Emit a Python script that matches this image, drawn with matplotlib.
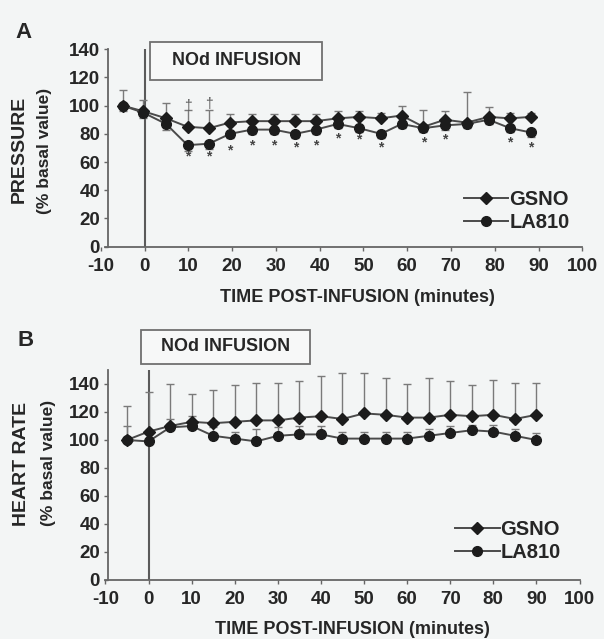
import matplotlib
matplotlib.use("Agg")
import matplotlib.pyplot as plt
from matplotlib.patches import Rectangle

plt.rcParams['font.family'] = ['Liberation Sans', 'DejaVu Sans']
plt.rcParams['axes.unicode_minus'] = False

# ---------------- data ----------------
time_A = [-5, -0.3, 4.9, 9.8, 14.7, 19.5, 24.5, 29.5, 34.4, 39.1, 44.1, 49.0,
          54.0, 58.7, 63.7, 68.6, 73.6, 78.6, 83.5, 88.2]
pressure_gsno = [100, 96, 91, 85, 84, 88, 89, 89, 89, 89, 91, 92, 91, 93, 85, 90, 88, 92, 91, 92]
pressure_gsno_err = [11, 8, 11, 12, 13, 6, 5, 5, 5, 5, 5, 4, 4, 7, 12, 6, 22, 7, 4, 3]
pressure_la810 = [100, 95, 87, 72, 73, 80, 83, 83, 80, 83, 87, 84, 80, 87, 84, 86, 87, 90, 84, 81]
pressure_la810_err = [4, 4, 4, 4, 4, 3, 3, 3, 3, 3, 3, 3, 3, 3, 3, 3, 3, 3, 3, 3]
# asterisk (significance) marks: time index -> y
sig_idx_A = [3, 4, 5, 6, 7, 8, 9, 10, 11, 12, 14, 15, 18, 19]
sig_y_A = [64, 64, 68, 72, 72, 70, 72, 77, 76, 70, 74, 76, 74, 70]
dagger_idx_A = [3, 4]
dagger_y_A = [100, 101]

time_B = [-5, 0, 5, 10, 15, 20, 25, 30, 35, 40, 45, 50, 55, 60, 65, 70, 75, 80, 85, 90]
hr_gsno = [100, 106, 110, 113, 112, 113, 114, 114, 116, 117, 115, 119, 118, 116, 116, 118, 117, 118, 115, 118]
hr_gsno_err = [24, 28, 30, 20, 24, 26, 27, 27, 26, 29, 33, 29, 26, 24, 28, 24, 22, 25, 26, 23]
hr_la810 = [100, 99, 109, 110, 103, 101, 99, 103, 104, 104, 101, 101, 101, 101, 103, 105, 107, 106, 103, 100]
hr_la810_err = [10, 8, 6, 7, 6, 5, 9, 6, 6, 6, 5, 5, 5, 5, 5, 5, 4, 5, 5, 5]

series_names = ['GSNO', 'LA810']
xticks = [-10, 0, 10, 20, 30, 40, 50, 60, 70, 80, 90, 100]
yticks = [0, 20, 40, 60, 80, 100, 120, 140]

# ---------------- style ----------------
BG = '#f3f5f5'
TXT = '#262626'
LINE = '#4a4a4a'
MK = '#1c1c1c'
ERR = '#7a7a7a'
TICKFS = 13.5
TITLEFS = 13

fig = plt.figure(figsize=(6.04, 6.39), dpi=100, facecolor=BG)

axA = fig.add_axes([100.9 / 604, 1 - 246.7 / 639, 481.4 / 604, 197.5 / 639])
axB = fig.add_axes([105.4 / 604, 1 - 580 / 639, 474.1 / 604, 210 / 639])


def style_axis(ax, ymax, spine_x):
    ax.set_facecolor('none')
    ax.set_xlim(-10, 100)
    ax.set_ylim(0, ymax)
    for s in ['top', 'right']:
        ax.spines[s].set_visible(False)
    ax.spines['left'].set_position(('data', spine_x))
    ax.spines['left'].set_bounds(0, ymax)
    ax.spines['bottom'].set_bounds(spine_x - 0.8, 100)
    for s in ['left', 'bottom']:
        ax.spines[s].set_color('#666666')
        ax.spines[s].set_linewidth(1.3)
    ax.set_xticks(xticks)
    ax.set_yticks(yticks)
    ax.tick_params(axis='both', colors='#666666', length=3, width=1,
                   labelcolor=TXT, labelsize=TICKFS)
    ax.tick_params(axis='x', pad=5)
    ax.tick_params(axis='y', pad=3)
    for lab in ax.get_xticklabels() + ax.get_yticklabels():
        lab.set_fontweight('bold')
    ax.axvline(0, color='#5a5a5a', lw=1.5, zorder=1)


def draw_series(ax, x, ys, errs, errdirs):
    markers = ['D', 'o']
    sizes = [6.5, 7]
    for y, e, m, ms, name, d in zip(ys, errs, markers, sizes, series_names, errdirs):
        if d == 'up':
            yerr = [[0] * len(e), e]
        else:
            yerr = [e, [0] * len(e)]
        ax.errorbar(x, y, yerr=yerr, fmt='none', ecolor=ERR, elinewidth=1,
                    capsize=3, capthick=1, zorder=2)
        ax.plot(x, y, color=LINE, lw=1.4, marker=m, ms=ms, mfc=MK, mec=MK,
                zorder=3, label=name)


def infusion_box(ax, x0, x1, y0, y1):
    ax.add_patch(Rectangle((x0, y0), x1 - x0, y1 - y0, facecolor='#f7f8f8',
                           edgecolor='#707070', lw=1.3, clip_on=False, zorder=4))
    ax.text((x0 + x1) / 2, (y0 + y1) / 2, 'NOd INFUSION', ha='center', va='center',
            fontsize=13, fontweight='bold', color=TXT, clip_on=False, zorder=5)


def legend(ax, xa, ya):
    ax.legend(loc='center left', bbox_to_anchor=(xa, ya), frameon=False,
              borderpad=0, borderaxespad=0, handlelength=2.2, handletextpad=0.05,
              labelspacing=0.2, prop={'size': 14.5, 'weight': 'bold'},
              labelcolor=TXT)


# ---------------- panel A ----------------
style_axis(axA, 140, -8.3)
draw_series(axA, time_A, [pressure_gsno, pressure_la810],
            [pressure_gsno_err, pressure_la810_err], ['up', 'down'])
for i, yv in zip(sig_idx_A, sig_y_A):
    axA.text(time_A[i], yv, '*', ha='center', va='center', fontsize=10,
             color='#444444', fontweight='bold')
for i, yv in zip(dagger_idx_A, dagger_y_A):
    axA.text(time_A[i], yv, '\u2020', ha='center', va='center', fontsize=10,
             color='#555555')
infusion_box(axA, 1.3, 40.6, 118, 145.4)
legend(axA, 0.7545, 0.182)
axA.set_xlabel('TIME POST-INFUSION (minutes)', fontsize=TITLEFS, fontweight='bold', color=TXT)
axA.xaxis.set_label_coords(0.532, -0.215)

# ---------------- panel B ----------------
style_axis(axB, 150, -9.3)
draw_series(axB, time_B, [hr_gsno, hr_la810], [hr_gsno_err, hr_la810_err], ['up', 'up'])
infusion_box(axB, -1.8, 37.4, 154.2, 178.9)
legend(axB, 0.738, 0.186)
axB.set_xlabel('TIME POST-INFUSION (minutes)', fontsize=TITLEFS, fontweight='bold', color=TXT)
axB.xaxis.set_label_coords(0.522, -0.195)

# ---------------- y labels and panel letters ----------------
def ftext(xpx, ypx, s, **kw):
    fig.text(xpx / 604, 1 - ypx / 639, s, color=TXT, **kw)

ftext(19, 149, 'PRESSURE', rotation=90, ha='center', va='center', fontsize=14, fontweight='bold')
ftext(45, 151, '(% basal value)', rotation=90, ha='center', va='center', fontsize=12.5, fontweight='bold')
ftext(22, 464, 'HEART RATE', rotation=90, ha='center', va='center', fontsize=14, fontweight='bold')
ftext(48, 463, '(% basal value)', rotation=90, ha='center', va='center', fontsize=12.5, fontweight='bold')
ftext(23.5, 33, 'A', ha='center', va='center', fontsize=16, fontweight='bold')
ftext(26, 340, 'B', ha='center', va='center', fontsize=16, fontweight='bold')

fig.savefig('out.png', dpi=100, facecolor=BG)
